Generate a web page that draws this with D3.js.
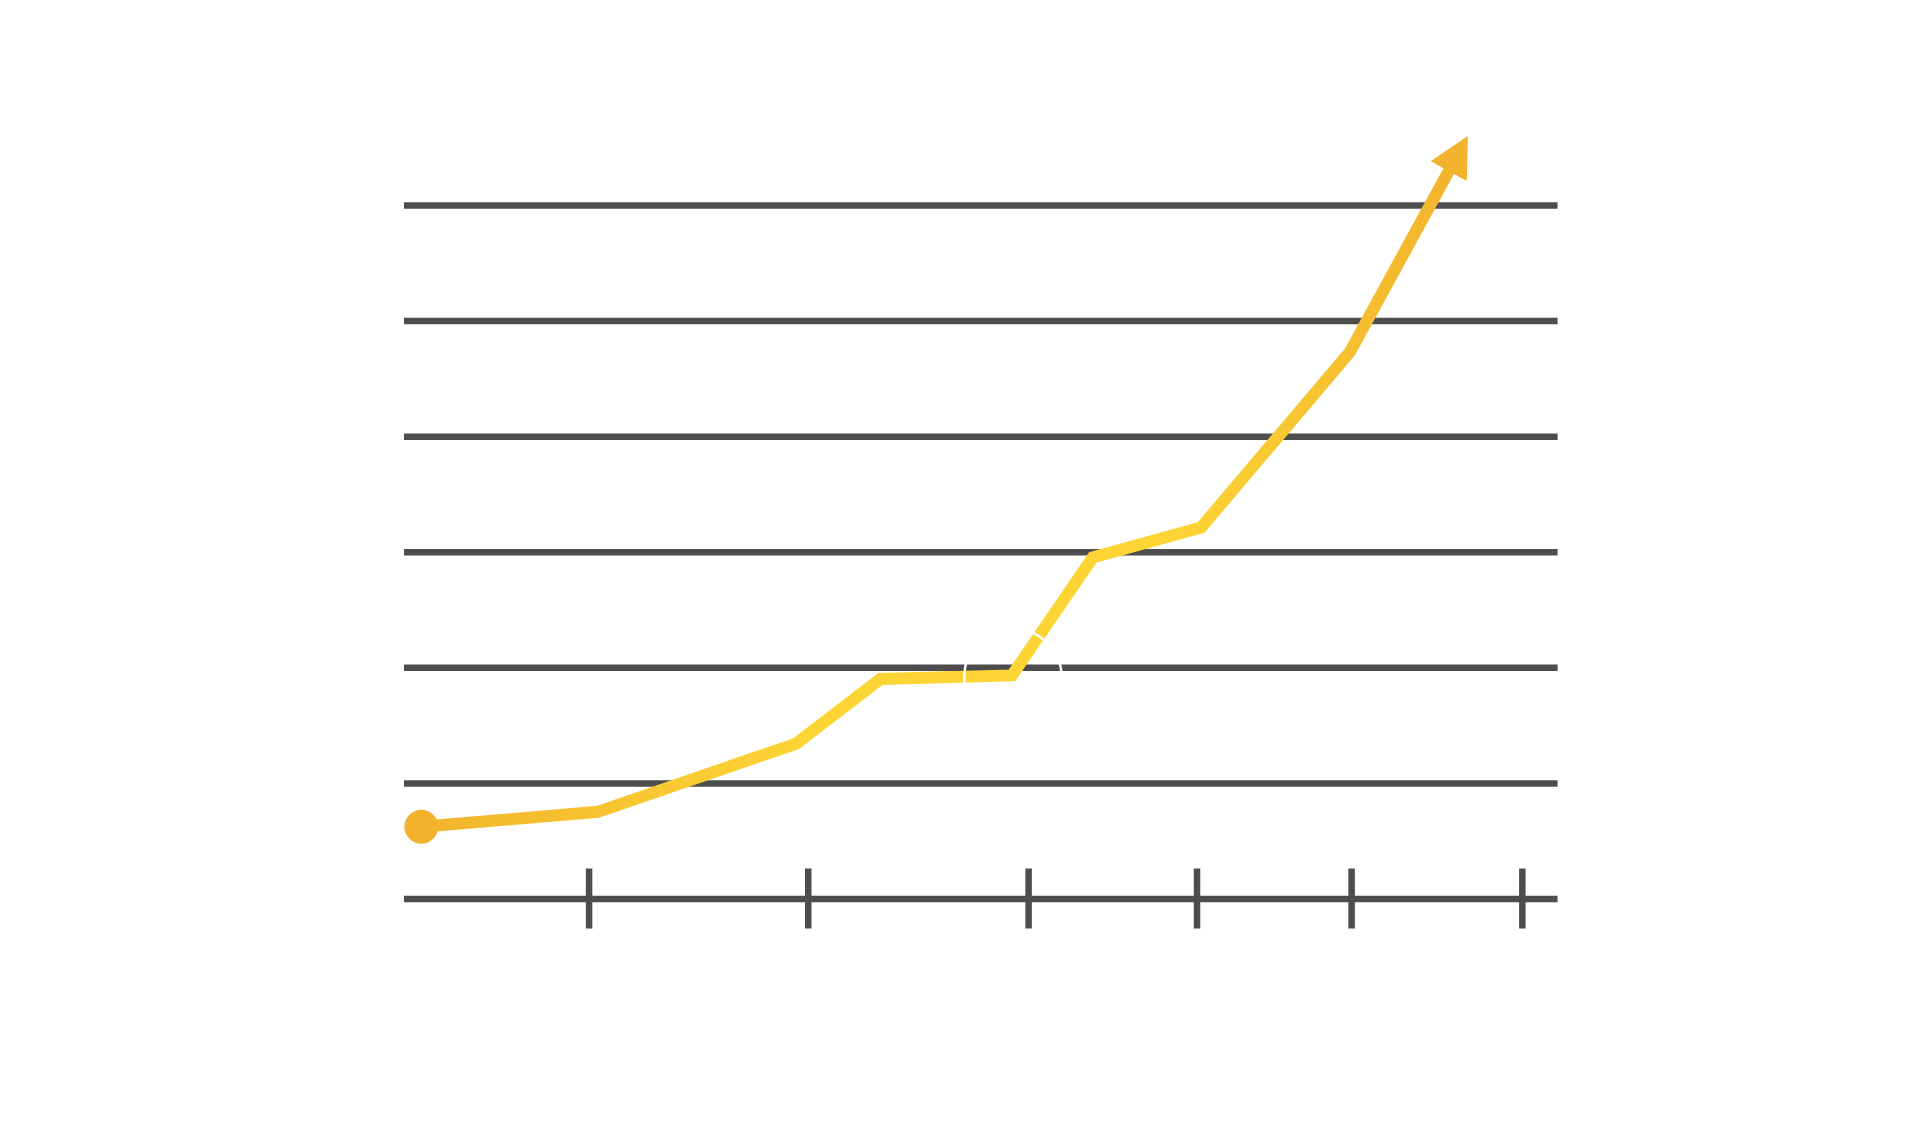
<!DOCTYPE html>
<html>
<head>
<meta charset="utf-8">
<script src="https://cdn.jsdelivr.net/npm/d3@7"></script>
<style>
  body { margin: 0; background: #fff; }
  svg { display: block; }
</style>
</head>
<body>
<div id="chart"></div>
<script>
// values (x in 0-100 units, y in gridline units)
var xValues = [1.5, 16.8, 34.0, 41.3, 52.7, 59.7, 69.1, 82.0, 90.6];
var yValues = [0.62, 0.75, 1.34, 1.90, 1.93, 2.95, 3.21, 4.73, 6.30];
var gridValues = [0, 1, 2, 3, 4, 5, 6];
var tickValues = [16, 35, 54.1, 68.7, 82.1, 96.9];
var ringIndex = 4;

var width = 1920;
var height = 1135;

var svg = d3.select("#chart")
    .append("svg")
    .attr("width", width)
    .attr("height", height);

var x = d3.scaleLinear().domain([0, 100]).range([404, 1557.6]);
var y = d3.scaleLinear().domain([0, 6]).range([898.5, 205]);

var defs = svg.append("defs");

var grad = defs.append("linearGradient")
    .attr("id", "lineGrad")
    .attr("gradientUnits", "userSpaceOnUse")
    .attr("x1", x(0)).attr("y1", 0)
    .attr("x2", x(92)).attr("y2", 0);
grad.append("stop").attr("offset", 0).attr("stop-color", "#F2B22C");
grad.append("stop").attr("offset", 0.38).attr("stop-color", "#FCD535");
grad.append("stop").attr("offset", 0.72).attr("stop-color", "#FCD535");
grad.append("stop").attr("offset", 1).attr("stop-color", "#F2B22C");

defs.append("marker")
    .attr("id", "arrow")
    .attr("markerUnits", "userSpaceOnUse")
    .attr("viewBox", "0 -21 40 42")
    .attr("markerWidth", 40)
    .attr("markerHeight", 42)
    .attr("refX", 1)
    .attr("refY", 0)
    .attr("orient", "auto")
  .append("path")
    .attr("d", "M0,-20.6L40,0L0,20.6Z")
    .attr("fill", "#F3B32D");

// horizontal gridlines
var grid = svg.append("g")
    .attr("transform", "translate(" + x(0) + ",0)")
    .call(d3.axisLeft(y).tickValues(gridValues).tickSize(-(x(100) - x(0))).tickFormat(""));
grid.select(".domain").remove();
grid.selectAll(".tick line")
    .attr("stroke", "#4D4D4D")
    .attr("stroke-width", 6.5);

// crossing ticks on the bottom line
var ticks = svg.append("g")
    .attr("transform", "translate(0," + (y(0) - 30) + ")")
    .call(d3.axisBottom(x).tickValues(tickValues).tickSize(60).tickFormat(""));
ticks.select(".domain").remove();
ticks.selectAll(".tick line")
    .attr("stroke", "#4D4D4D")
    .attr("stroke-width", 6.5);

var data = xValues.map(function(d, i) { return [d, yValues[i]]; });

var line = d3.line()
    .x(function(d) { return x(d[0]); })
    .y(function(d) { return y(d[1]); });

svg.append("path")
    .datum(data)
    .attr("d", line)
    .attr("fill", "none")
    .attr("stroke", "url(#lineGrad)")
    .attr("stroke-width", 12)
    .attr("stroke-linejoin", "miter")
    .attr("marker-end", "url(#arrow)");

svg.append("circle")
    .attr("cx", x(data[0][0]))
    .attr("cy", y(data[0][1]))
    .attr("r", 17)
    .attr("fill", "#F2B22C");

// thin white ring around one vertex, cutting through line and grid
svg.append("circle")
    .attr("cx", x(data[ringIndex][0]) + 1)
    .attr("cy", y(data[ringIndex][1]) + 2)
    .attr("r", 48.7)
    .attr("fill", "none")
    .attr("stroke", "#fff")
    .attr("stroke-width", 2.5);
</script>
</body>
</html>
